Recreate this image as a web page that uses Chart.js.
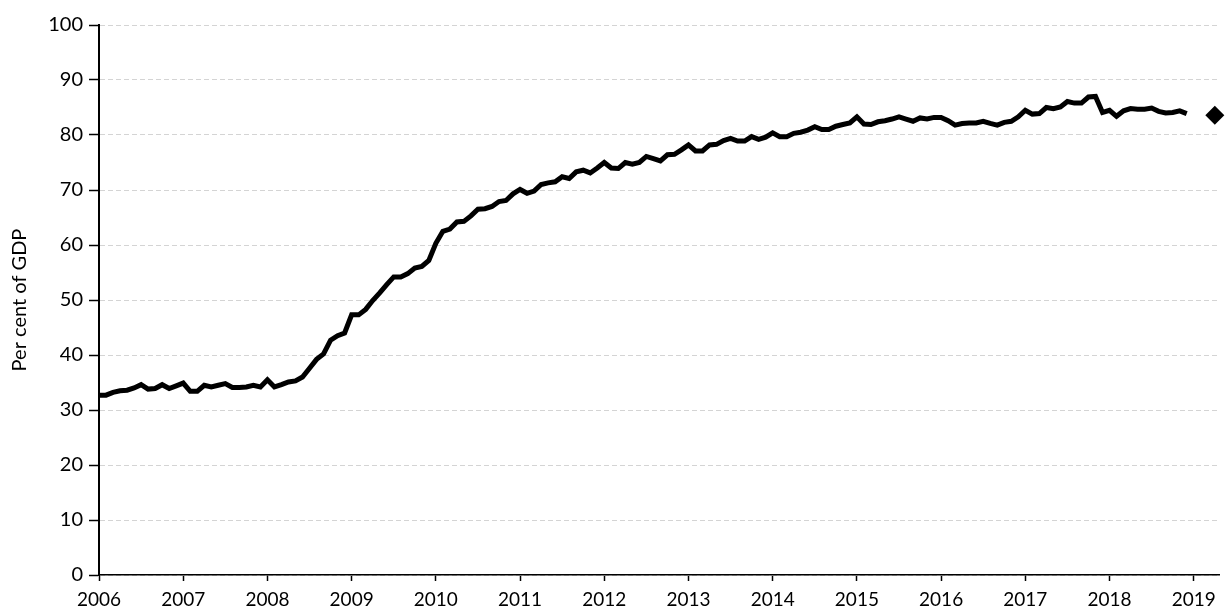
<!DOCTYPE html>
<html><head><meta charset="utf-8">
<script src="https://cdn.jsdelivr.net/npm/chart.js@4/dist/chart.umd.min.js"></script>
<style>html,body{margin:0;padding:0;background:#fff}#wrap{width:1230px;height:613px}</style>
</head><body><div id="wrap"><canvas id="c" width="1230" height="613"></canvas></div>
<script>
// Monthly series, January 2006 onwards (per cent of GDP)
const startYear = 2006;
const debtRatio = [
  // 2006
  32.7, 32.7, 33.2, 33.5, 33.6, 34.0, 34.6, 33.8, 33.9, 34.6, 33.9, 34.4,
  // 2007
  34.9, 33.4, 33.4, 34.5, 34.2, 34.5, 34.8, 34.1, 34.1, 34.2, 34.5, 34.2,
  // 2008
  35.5, 34.2, 34.6, 35.1, 35.3, 36.0, 37.6, 39.2, 40.2, 42.7, 43.5, 44.0,
  // 2009
  47.3, 47.3, 48.3, 49.9, 51.3, 52.8, 54.2, 54.2, 54.8, 55.8, 56.1, 57.2,
  // 2010
  60.3, 62.5, 62.9, 64.2, 64.3, 65.3, 66.5, 66.6, 67.0, 67.9, 68.1, 69.3,
  // 2011
  70.1, 69.4, 69.8, 71.0, 71.3, 71.5, 72.4, 72.1, 73.3, 73.6, 73.1, 74.0,
  // 2012
  75.0, 74.0, 73.9, 75.0, 74.7, 75.0, 76.1, 75.7, 75.3, 76.4, 76.5, 77.3,
  // 2013
  78.2, 77.1, 77.1, 78.2, 78.3, 79.0, 79.4, 78.9, 78.9, 79.7, 79.2, 79.6,
  // 2014
  80.4, 79.7, 79.7, 80.3, 80.5, 80.9, 81.5, 81.0, 81.0, 81.6, 81.9, 82.2,
  // 2015
  83.3, 82.0, 81.9, 82.4, 82.6, 82.9, 83.3, 82.9, 82.5, 83.1, 82.9, 83.2,
  // 2016
  83.2, 82.6, 81.8, 82.1, 82.2, 82.2, 82.5, 82.1, 81.8, 82.3, 82.5, 83.3,
  // 2017
  84.5, 83.8, 83.9, 85.0, 84.8, 85.1, 86.1, 85.8, 85.8, 86.9, 87.0, 84.1,
  // 2018
  84.5, 83.4, 84.4, 84.8, 84.7, 84.7, 84.9, 84.3, 84.0, 84.1, 84.4, 83.9
];
const projectionX = [2019.25];
const projectionY = [83.6];
const yearTicks = [2006, 2007, 2008, 2009, 2010, 2011, 2012, 2013, 2014, 2015, 2016, 2017, 2018, 2019];
const yTickValues = [0, 10, 20, 30, 40, 50, 60, 70, 80, 90, 100];
const yTitle = 'Per cent of GDP';

const lineData = debtRatio.map((v, i) => ({ x: startYear + i / 12, y: v }));
const projData = projectionX.map((x, i) => ({ x: x, y: projectionY[i] }));

const FONT = 'Lato, "Open Sans", sans-serif';
const PAD_LEFT = 8;

new Chart(document.getElementById('c'), {
  type: 'line',
  data: {
    datasets: [
      { data: lineData, borderColor: '#000', backgroundColor: '#000', borderWidth: 5,
        pointRadius: 0, tension: 0, fill: false },
      { data: projData, showLine: false, pointStyle: 'rectRot', pointRadius: 9.5, clip: false,
        backgroundColor: '#000', borderColor: '#000', borderWidth: 0 }
    ]
  },
  options: {
    responsive: false,
    animation: false,
    devicePixelRatio: 1,
    layout: { padding: { left: PAD_LEFT, right: 11, top: 25, bottom: 0 } },
    plugins: { legend: { display: false }, tooltip: { enabled: false } },
    scales: {
      x: {
        type: 'linear', min: 2006, max: 2019.3,
        afterBuildTicks: s => { s.ticks = yearTicks.map(v => ({ value: v })); },
        afterFit: s => { s.height = 38; },
        ticks: { color: '#000', font: { family: FONT, size: 19 }, autoSkip: false,
                 maxRotation: 0, padding: 7, callback: v => String(v) },
        grid: { drawOnChartArea: false, drawTicks: true, tickLength: 6, color: '#000', tickColor: '#000', tickWidth: 1.5 },
        border: { color: '#000', width: 1.5 }
      },
      y: {
        min: 0, max: 100,
        afterBuildTicks: s => { s.ticks = yTickValues.map(v => ({ value: v })); },
        afterFit: s => { s.width = 99 - PAD_LEFT; },
        ticks: { color: '#000', font: { family: FONT, size: 20 }, padding: 6 },
        grid: { color: '#d4d4d4', lineWidth: 1, tickColor: '#000', tickLength: 10, tickWidth: 1.5, tickBorderDash: [] },
        border: { color: '#000', width: 2, dash: [5, 3] },
        title: { display: true, text: yTitle, color: '#000', font: { family: FONT, size: 20 }, padding: 0 }
      }
    }
  }
});
</script></body></html>
